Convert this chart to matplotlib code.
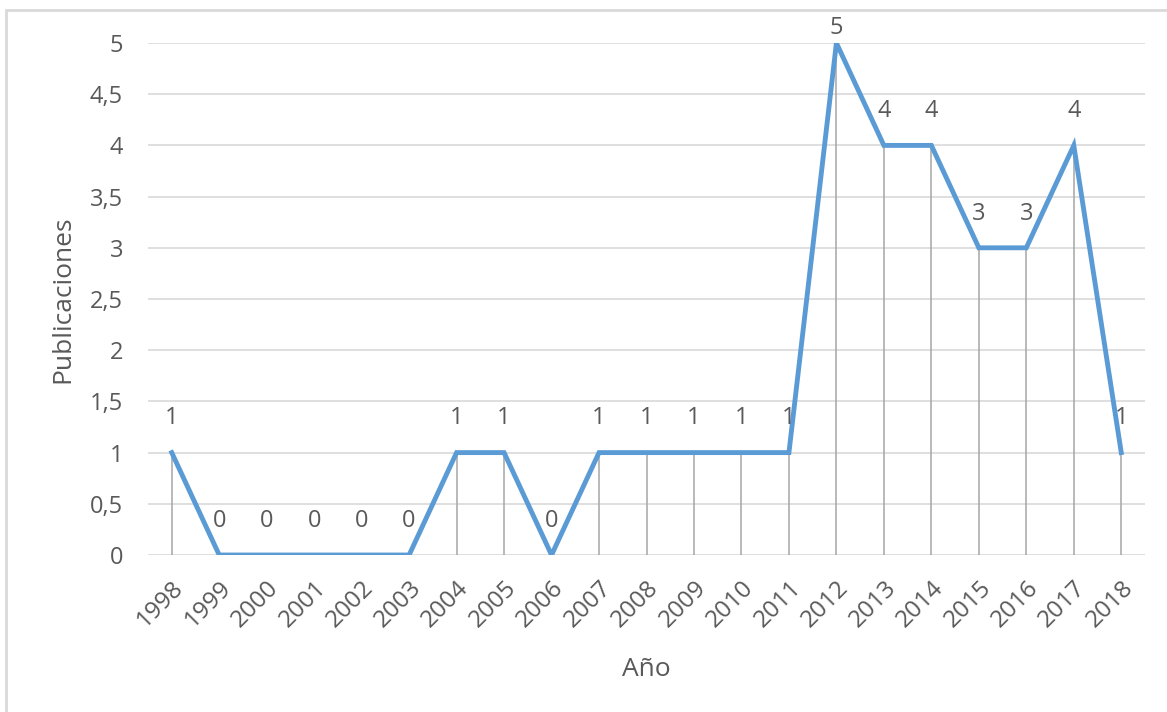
import matplotlib
matplotlib.use("Agg")
import matplotlib.pyplot as plt
from matplotlib.patches import Rectangle

years = ["1998", "1999", "2000", "2001", "2002", "2003", "2004", "2005", "2006",
         "2007", "2008", "2009", "2010", "2011", "2012", "2013", "2014", "2015",
         "2016", "2017", "2018"]
publicaciones = [1, 0, 0, 0, 0, 0, 1, 1, 0, 1, 1, 1, 1, 1, 5, 4, 4, 3, 3, 4, 1]
y_ticks = [0, 0.5, 1, 1.5, 2, 2.5, 3, 3.5, 4, 4.5, 5]
y_tick_labels = ["0", "0,5", "1", "1,5", "2", "2,5", "3", "3,5", "4", "4,5", "5"]

plt.rcParams["font.family"] = ["Open Sans", "DejaVu Sans"]
text_color = "#595959"

W, H = 1167, 712
fig = plt.figure(figsize=(W / 100, H / 100), dpi=100)
fig.patch.set_facecolor("white")

# chart frame
fig.patches.append(Rectangle((6 / W, -0.01), 1.1, (H - 10) / H + 0.01,
                             transform=fig.transFigure, fill=False,
                             edgecolor="#D9D9D9", linewidth=2))

ax = fig.add_axes([148 / W, 1 - 555 / H, (1145 - 148) / W, (555 - 43) / H])
x = list(range(len(years)))

ax.set_xlim(-0.5, len(years) - 0.5)
ax.set_ylim(0, 5)
ax.set_yticks(y_ticks)
ax.set_yticklabels(y_tick_labels)
ax.yaxis.grid(True, color="#D9D9D9", linewidth=1.2)
ax.set_axisbelow(True)
for s in ax.spines.values():
    s.set_visible(False)

# drop lines
ax.vlines(x, 0, publicaciones, colors="#A6A6A6", linewidth=1.1, zorder=2)

ax.plot(x, publicaciones, color="#5B9BD5", linewidth=3.5,
        solid_joinstyle="miter", zorder=3)

# value labels above each point; the top one is kept inside the frame
top = max(publicaciones)
for xi, v in zip(x, publicaciones):
    dy = 2 if v == top else 16
    ax.annotate(str(v), (xi, v), xytext=(0, dy), textcoords="offset points",
                ha="center", va="bottom", fontsize=17, color=text_color,
                zorder=4, annotation_clip=False)

ax.set_xticks(x)
ax.set_xticklabels(years, rotation=45, ha="right", rotation_mode="anchor")
ax.tick_params(axis="both", length=0, labelsize=17, labelcolor=text_color)
ax.tick_params(axis="x", labelsize=17.5, pad=15)
ax.tick_params(axis="y", pad=18)

ax.set_ylabel("Publicaciones", fontsize=19, color=text_color, labelpad=10)
ax.set_xlabel("Año", fontsize=19, color=text_color, labelpad=18)

fig.savefig("out.png", dpi=100, facecolor="white")
